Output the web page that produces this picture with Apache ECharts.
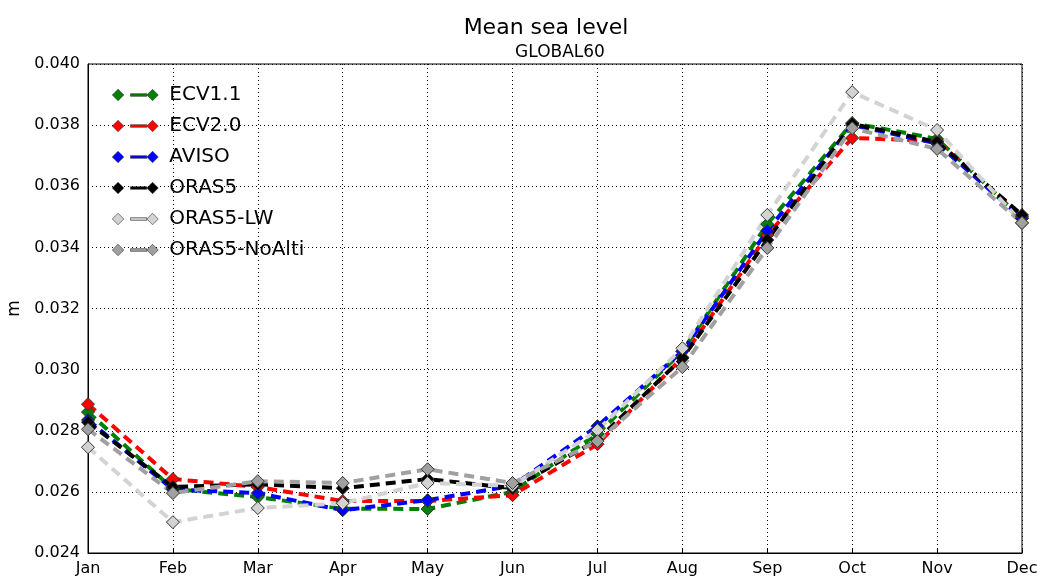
<!DOCTYPE html>
<html>
<head>
<meta charset="utf-8">
<script src="https://cdn.jsdelivr.net/npm/echarts@6/dist/echarts.min.js"></script>
<style>
  html, body { margin: 0; padding: 0; background: #fff; }
  #chart { width: 1037px; height: 576px; }
</style>
</head>
<body>
<div id="chart"></div>
<script>
const months = ['Jan', 'Feb', 'Mar', 'Apr', 'May', 'Jun', 'Jul', 'Aug', 'Sep', 'Oct', 'Nov', 'Dec']
const yTicks = [0.024, 0.026, 0.028, 0.030, 0.032, 0.034, 0.036, 0.038, 0.040]

const ecv11 = [0.02861, 0.02610, 0.02583, 0.02545, 0.02544, 0.02600, 0.02790, 0.03060, 0.03476, 0.03807, 0.03755, 0.03495]
const ecv20 = [0.02887, 0.02642, 0.02616, 0.02570, 0.02570, 0.02589, 0.02756, 0.03040, 0.03440, 0.03758, 0.03748, 0.03500]
const aviso = [0.02835, 0.02608, 0.02596, 0.02540, 0.02573, 0.02620, 0.02815, 0.03060, 0.03454, 0.03800, 0.03740, 0.03495]
const oras5 = [0.02828, 0.02616, 0.02625, 0.02612, 0.02642, 0.02612, 0.02770, 0.03038, 0.03424, 0.03804, 0.03745, 0.03506]
const oras5lw = [0.02746, 0.02501, 0.02547, 0.02563, 0.02629, 0.02620, 0.02802, 0.03070, 0.03506, 0.03908, 0.03784, 0.03480]
const oras5noalti = [0.02805, 0.02596, 0.02635, 0.02629, 0.02674, 0.02629, 0.02766, 0.03008, 0.03398, 0.03790, 0.03722, 0.03480]

const seriesDefs = [
  { name: 'ECV1.1', data: ecv11, color: '#008000' },
  { name: 'ECV2.0', data: ecv20, color: '#ff0000' },
  { name: 'AVISO', data: aviso, color: '#0000ff' },
  { name: 'ORAS5', data: oras5, color: '#000000' },
  { name: 'ORAS5-LW', data: oras5lw, color: '#d3d3d3' },
  { name: 'ORAS5-NoAlti', data: oras5noalti, color: '#a0a0a0' }
]

// diamond, dash, diamond like the matplotlib legend handle
const legendIcon = 'path://M0 6 L6 0 L12 6 L6 12 Z M19 4.6 L36 4.6 L36 7.4 L19 7.4 Z M36 6 L42 0 L48 6 L42 12 Z'

const chart = echarts.init(document.getElementById('chart'))
chart.setOption({
  animation: false,
  textStyle: { fontFamily: 'DejaVu Sans' },
  title: [
    { text: 'Mean sea level', left: 541, top: 12, textAlign: 'center',
      textStyle: { fontSize: 22, fontWeight: 'normal', color: '#000' } },
    { text: 'GLOBAL60', left: 555, top: 39, textAlign: 'center',
      textStyle: { fontSize: 17, fontWeight: 'normal', color: '#000' } }
  ],
  legend: {
    orient: 'vertical',
    left: 107,
    top: 80,
    itemWidth: 46,
    itemHeight: 12,
    itemGap: 11,
    icon: legendIcon,
    itemStyle: { borderWidth: 0.6, borderColor: '#333' },
    textStyle: { fontSize: 20, color: '#000', padding: [0, 0, 0, 6] },
    data: seriesDefs.map(s => s.name)
  },
  grid: { left: 88, right: 15, top: 64, bottom: 23, outerBoundsMode: 'none',
    show: true, borderColor: '#000', borderWidth: 1 },
  xAxis: {
    type: 'category',
    data: months,
    boundaryGap: false,
    axisLine: { lineStyle: { color: '#000' } },
    axisTick: { inside: true, length: 5, lineStyle: { color: '#000' } },
    axisLabel: { color: '#000', fontSize: 16, margin: 8 },
    splitLine: { show: true, lineStyle: { color: '#000', type: [1, 3] } }
  },
  yAxis: {
    type: 'value',
    name: 'm',
    nameLocation: 'middle',
    nameGap: 64,
    nameTextStyle: { fontSize: 17, color: '#000' },
    min: yTicks[0],
    max: yTicks[yTicks.length - 1],
    interval: 0.002,
    axisLine: { show: true, lineStyle: { color: '#000' } },
    axisTick: { inside: true, length: 5, lineStyle: { color: '#000' } },
    axisLabel: { color: '#000', fontSize: 16, margin: 8, formatter: v => v.toFixed(3) },
    splitLine: { show: true, lineStyle: { color: '#000', type: [1, 3] } }
  },
  series: seriesDefs.map(s => ({
    name: s.name,
    type: 'line',
    data: s.data,
    symbol: 'diamond',
    symbolSize: 13,
    showAllSymbol: true,
    color: s.color,
    lineStyle: { color: s.color, width: 4, type: [10, 6] },
    itemStyle: { color: s.color, borderColor: '#333', borderWidth: 1 }
  }))
})
</script>
</body>
</html>
